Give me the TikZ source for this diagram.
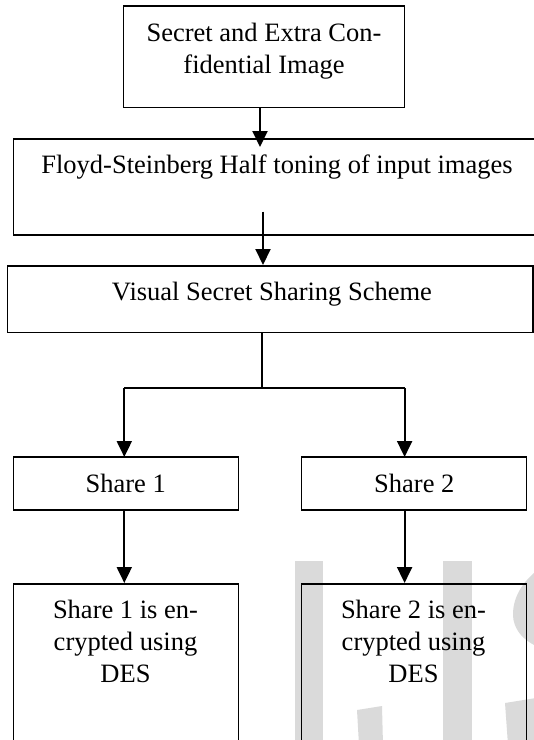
\documentclass[tikz,border=0pt]{standalone}
\usepackage{fontspec}
\setmainfont{Liberation Serif}
\usetikzlibrary{arrows.meta}
\definecolor{wm}{RGB}{218,218,218}
\begin{document}
\begin{tikzpicture}[x=1pt,y=-1pt,
  box/.style={draw,line width=1.6pt,inner sep=0pt,outer sep=0pt,anchor=north west},
  txt/.style={inner sep=0pt,anchor=base,align=center,font=\fontsize{26.5}{31.8}\selectfont},
  arr/.style={line width=2pt,-{Triangle[length=16pt,width=15pt]}},
  br/.style={line width=1.3pt},
  brh/.style={line width=1.7pt}]
\useasboundingbox (0,0) rectangle (534,740);
\clip (0,0) rectangle (534,740);
% watermark
\fill[wm] (295,561) rectangle (323,745);
\fill[wm] (443,561) rectangle (472,745);
\fill[wm] (357,710) -- (382,706) -- (383,745) -- (359,745) -- cycle;
\fill[wm] (534,573) .. controls (519,586) and (511,603) .. (513.5,620) .. controls (516,632) and (524,640) .. (536,646) -- (536,573) -- cycle;
\fill[wm] (505,703) -- (536,698) -- (536,745) -- (508,745) -- cycle;
% boxes
\node[box,minimum width=281pt,minimum height=101.5pt] (top) at (123.5,6) {};
\node[box,minimum width=540pt,minimum height=96pt] (b2) at (13.5,139) {};
\node[box,minimum width=525.5pt,minimum height=66.3pt] (b3) at (7.5,266) {};
\node[box,minimum width=225pt,minimum height=53pt] (s1) at (13.5,457) {};
\node[box,minimum width=225pt,minimum height=53pt] (s2) at (301.5,457) {};
\node[box,minimum width=225pt,minimum height=200pt] (e1) at (13.5,584) {};
\node[box,minimum width=225pt,minimum height=200pt] (e2) at (301.5,584) {};
% texts (base = last line baseline)
\node[txt] (t0) at (264,73) {Secret and Extra Con-\\fidential Image};
\node[txt] (t2) at (277,173.3) {Floyd-Steinberg Half toning of input images};
\node[txt] (t3) at (272,300) {Visual Secret Sharing Scheme};
\node[txt] (t4) at (125.7,492) {Share 1};
\node[txt] (t5) at (414.3,492) {Share 2};
\node[txt] (t6) at (125.5,682) {Share 1 is en-\\crypted using\\DES};
\node[txt] (t7) at (413.5,682) {Share 2 is en-\\crypted using\\DES};
% connectors
\coordinate (a1) at (260,0);
\coordinate (c2) at (263,211.7);
\coordinate (j) at (262,388);
\coordinate (ax1) at (124.3,388);
\coordinate (ax2) at (404.6,388);
\draw[arr,shorten >=-8pt] (top.south -| a1) -- (b2.north -| a1);
\draw[arr,shorten >=1pt] (c2) -- (b3.north -| c2);
\draw[br] (b3.south -| j) -- (j);
\draw[brh] (ax1) -- (ax2);
\draw[arr] (ax1) -- (s1.north -| ax1);
\draw[arr] (ax2) -- (s2.north -| ax2);
\draw[arr,shorten >=1pt] (s1.south -| ax1) -- (e1.north -| ax1);
\draw[arr,shorten >=1pt] (s2.south -| ax2) -- (e2.north -| ax2);
\end{tikzpicture}
\end{document}
